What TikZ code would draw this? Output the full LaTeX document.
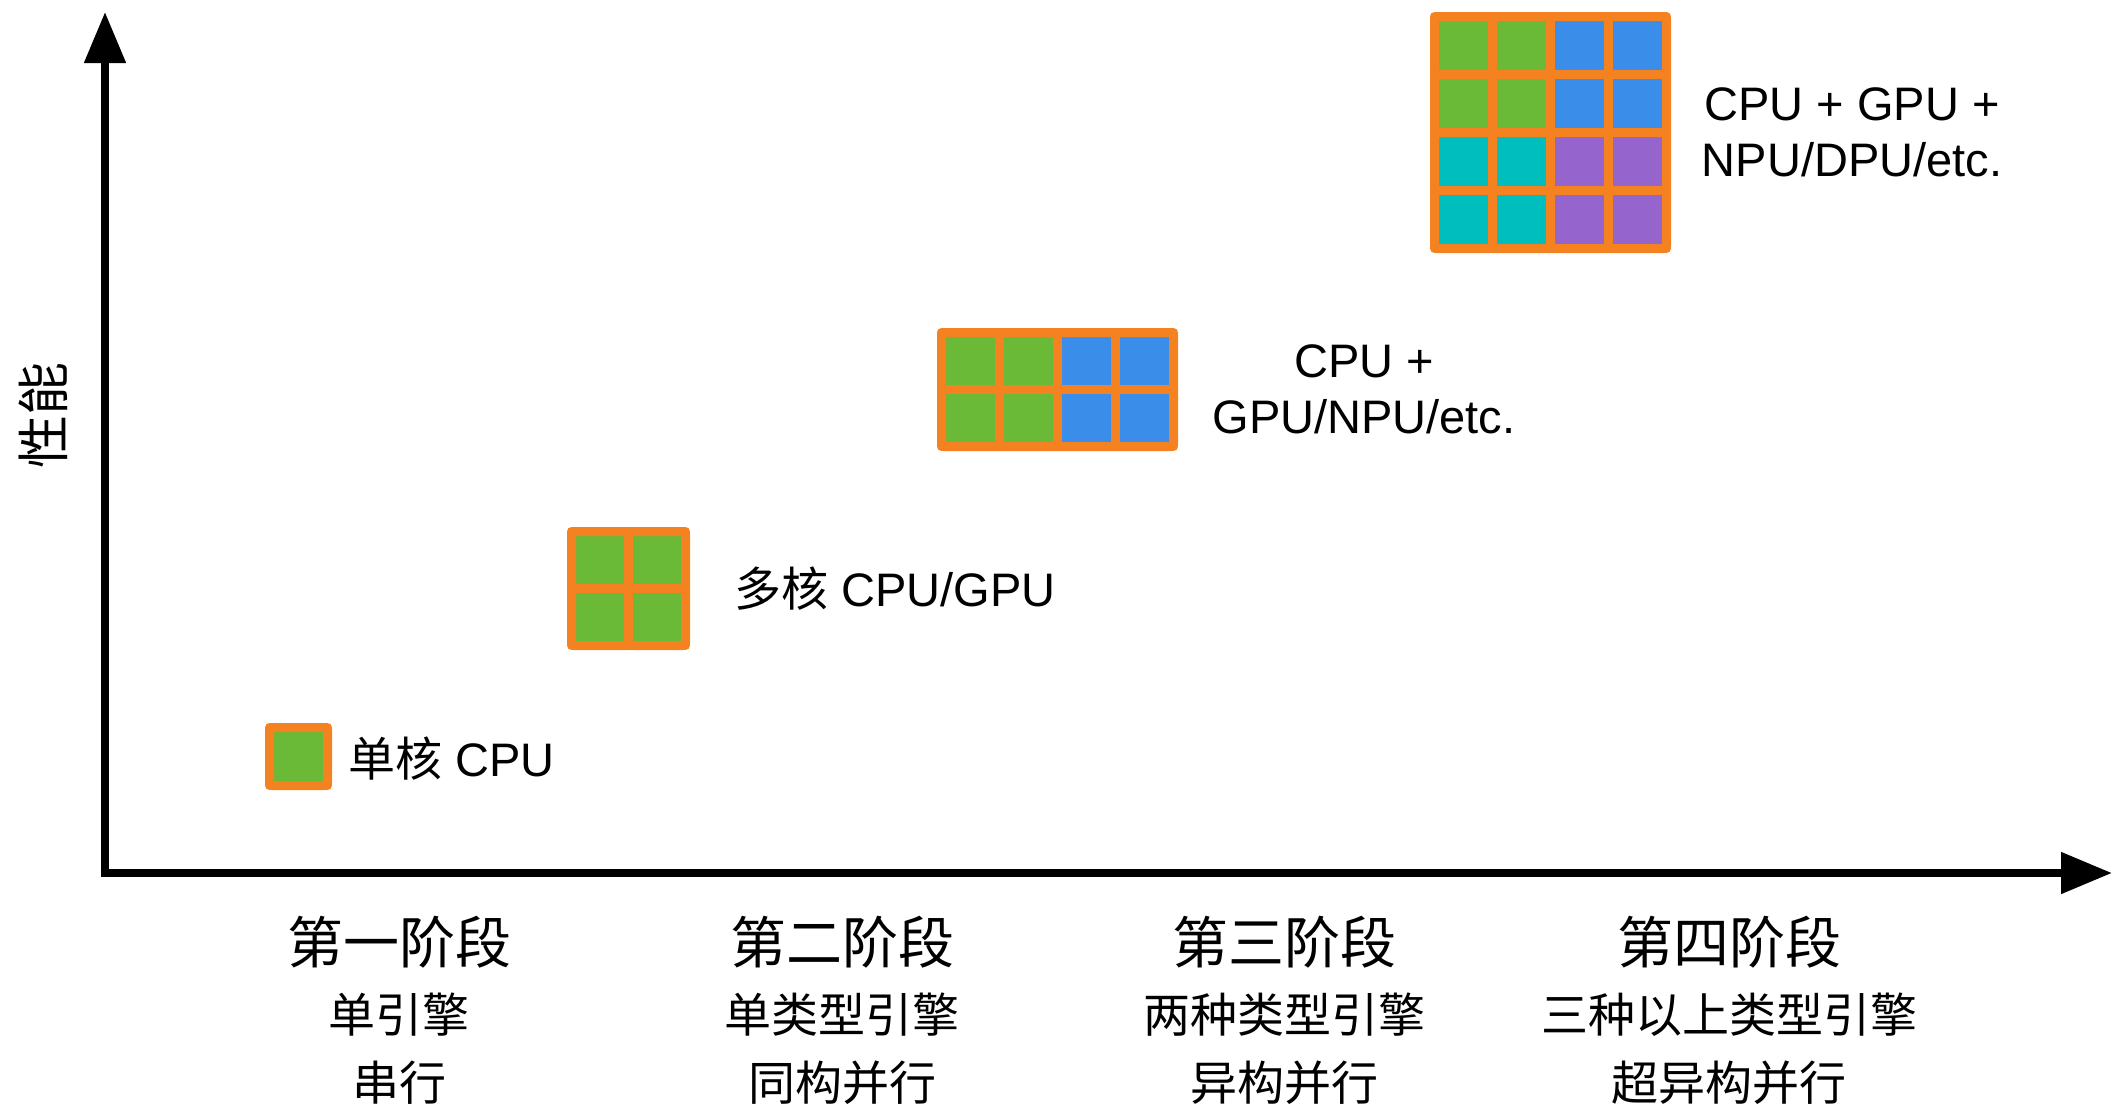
\documentclass[tikz,border=0pt]{standalone}
\usepackage{fontspec}
\setmainfont{Liberation Sans}
\newfontfamily\cjk{Noto Sans CJK SC}
\usetikzlibrary{arrows.meta}
\definecolor{cOr}{RGB}{245,130,32}
\definecolor{cGr}{RGB}{106,186,55}
\definecolor{cBl}{RGB}{58,142,234}
\definecolor{cTe}{RGB}{0,190,190}
\definecolor{cPu}{RGB}{150,100,205}
\begin{document}
\begin{tikzpicture}[x=0.5pt,y=-0.5pt,
  cellbox/.style={draw=cOr, line width=4.5pt, line join=round},
  outerbox/.style={draw=cOr, line width=4.5pt, rounded corners=1.5pt},
  lbl/.style={font=\fontsize{23.5pt}{28pt}\selectfont, inner sep=0pt},
  stage/.style={font=\fontsize{28pt}{34pt}\selectfont\cjk, inner sep=0pt},
  sub/.style={font=\fontsize{23.5pt}{28pt}\selectfont\cjk, inner sep=0pt},
  axis/.style={line width=4pt, line join=miter, >={Triangle[length=25.5pt,width=20pt]}}]
\useasboundingbox (0,0) rectangle (2113,1108);

% axes
\coordinate (ytop) at (105,12);
\coordinate (orig) at (105,873);
\coordinate (xend) at (2112,873);
\draw[axis,<->] (ytop) -- (orig) -- (xend);

\node[lbl, font=\fontsize{26.5pt}{30pt}\selectfont, rotate=90] (yl) at (43,415) {\cjk 性能};

% single core
\foreach \i/\j/\c in {0/0/cGr}
  \draw[cellbox, fill=\c] (269.5+58*\i,727.5+58*\j) rectangle ++(58,58);
\draw[outerbox] (269.5,727.5) rectangle ++(58,58);

% multi core 2x2
\foreach \i/\j/\c in {0/0/cGr,1/0/cGr,0/1/cGr,1/1/cGr}
  \draw[cellbox, fill=\c] (571.5+57*\i,531.5+57*\j) rectangle ++(57,57);
\draw[outerbox] (571.5,531.5) rectangle ++(114,114);

% 4x2
\foreach \i/\j/\c in {0/0/cGr,1/0/cGr,2/0/cBl,3/0/cBl,0/1/cGr,1/1/cGr,2/1/cBl,3/1/cBl}
  \draw[cellbox, fill=\c] (941.5+58*\i,332.5+57*\j) rectangle ++(58,57);
\draw[outerbox] (941.5,332.5) rectangle ++(232,114);

% 4x4
\foreach \i/\j/\c in {0/0/cGr,1/0/cGr,2/0/cBl,3/0/cBl,
                      0/1/cGr,1/1/cGr,2/1/cBl,3/1/cBl,
                      0/2/cTe,1/2/cTe,2/2/cPu,3/2/cPu,
                      0/3/cTe,1/3/cTe,2/3/cPu,3/3/cPu}
  \draw[cellbox, fill=\c] (1434.5+58*\i,16.5+58*\j) rectangle ++(58,58);
\draw[outerbox] (1434.5,16.5) rectangle ++(232,232);

% labels
\node[lbl, anchor=west] (l1) at (348,759) {{\cjk 单核} CPU};
\node[lbl, anchor=west] (l2) at (734,589) {{\cjk 多核} CPU/GPU};
\node[lbl, align=center] (l3) at (1364,389) {CPU +\\[0pt]GPU/NPU/etc.};
\node[lbl, align=center] (l4) at (1852,132) {CPU + GPU +\\[0pt]NPU/DPU/etc.};

% stages
\node[stage] (s1) at (399,942) {第一阶段};
\node[sub] (s1a) at (399,1015) {单引擎};
\node[sub] (s1b) at (399,1083) {串行};
\node[stage] (s2) at (842,942) {第二阶段};
\node[sub] (s2a) at (842,1015) {单类型引擎};
\node[sub] (s2b) at (842,1083) {同构并行};
\node[stage] (s3) at (1284,942) {第三阶段};
\node[sub] (s3a) at (1284,1015) {两种类型引擎};
\node[sub] (s3b) at (1284,1083) {异构并行};
\node[stage] (s4) at (1729,942) {第四阶段};
\node[sub] (s4a) at (1729,1015) {三种以上类型引擎};
\node[sub] (s4b) at (1729,1083) {超异构并行};
\end{tikzpicture}
\end{document}
